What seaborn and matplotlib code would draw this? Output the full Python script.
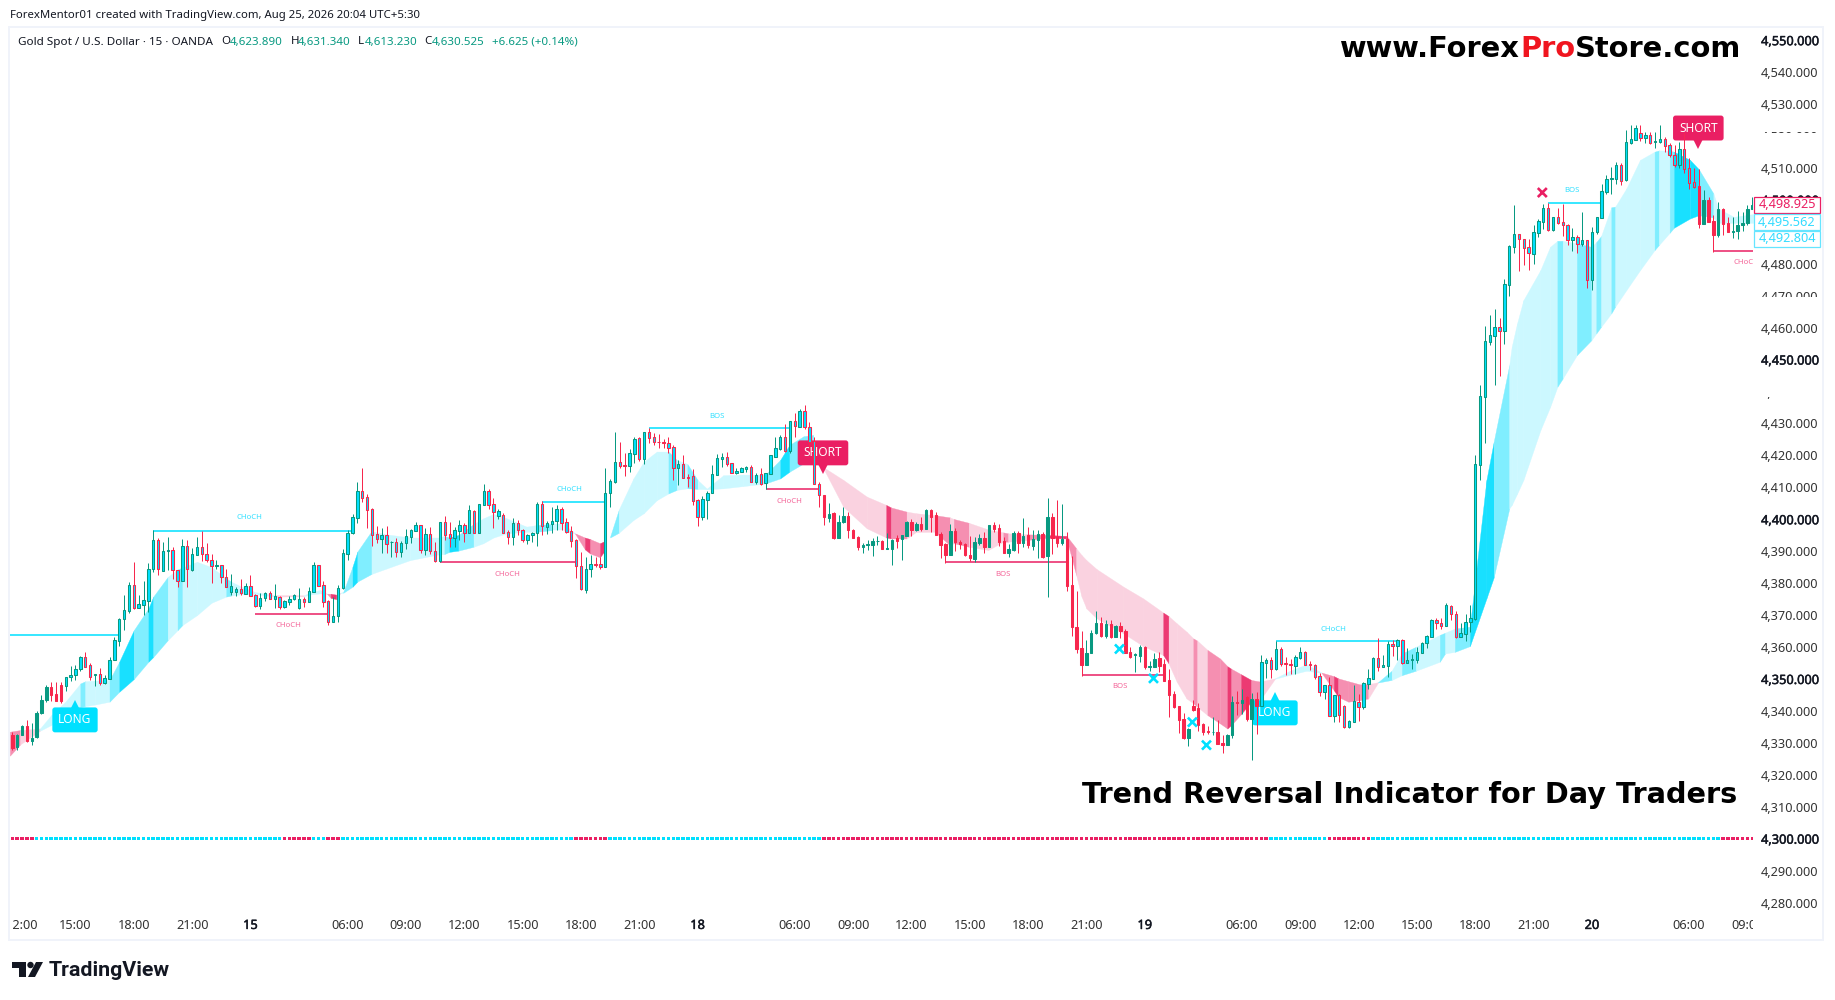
import numpy as np
import pandas as pd
import seaborn as sns
import matplotlib
matplotlib.use("Agg")
import matplotlib.pyplot as plt
from matplotlib.patches import Rectangle, Polygon, Ellipse
from matplotlib import patheffects as pe

W, H = 1835, 1000

# OHLC, one value per bar
opens = [4332.4,4328.8,4332.4,4335.3,4330.6,4331.7,4339.2,4343.4,4347.4,4345.3,
4348,4347.9,4350.5,4351.3,4353,4356.8,4354.3,4351.1,4351.5,4348.8,
4350,4356.1,4362,4368.7,4371.4,4379.3,4372.3,4373.3,4374.5,4384.3,
4393.4,4383.9,4390.2,4390.3,4384,4380.8,4391.5,4384.1,4388.9,4391.2,
4389.2,4387.1,4385.5,4385.6,4381.8,4377.3,4377.3,4378.1,4376.6,4379,
4376.3,4372.9,4375.4,4376.8,4375.1,4375.8,4372.4,4374.2,4375.1,4372.1,
4375.2,4374.2,4377.3,4385.7,4379.3,4374.3,4367.9,4369.8,4378.4,4389.2,
4395.6,4400.5,4408.8,4406.9,4403.2,4395.3,4393.9,4395,4392.8,4392.8,
4389.9,4392.7,4394.6,4396.4,4398.1,4390.4,4395.4,4390.2,4386.9,4399,
4395.4,4394.2,4396.3,4398.1,4395.8,4402.6,4395.8,4404.6,4408.8,4404.7,
4401.1,4401.5,4396,4394.6,4398.7,4396.5,4393.6,4395.2,4395.6,4404.7,
4397.7,4398.6,4399.4,4403.1,4399,4396.2,4393.4,4385.3,4378,4384.5,
4386,4385.9,4385.2,4408.1,4411.6,4417.9,4416.9,4416.8,4420.5,4425.3,
4418.8,4427.2,4425.8,4424.3,4424.1,4423.8,4422.5,4416,4417.2,4413.1,
4413.4,4405.9,4400.8,4406.1,4408.2,4414,4419,4419.4,4417.5,4414.6,
4414.9,4415.6,4416.3,4411.8,4414.2,4411.5,4414.3,4419.6,4422,4425.7,
4421.5,4430.7,4429,4433.8,4428.8,4424.5,4411.2,4407.6,4400.4,4402.1,
4394.1,4399.1,4401.1,4396.8,4394.4,4391.4,4392,4392.1,4393.1,4393.1,
4390.8,4390.8,4394.1,4393.9,4394.8,4399,4396.6,4398.5,4397.1,4402.9,
4401.2,4395.4,4392.2,4388.9,4396.3,4392.9,4392.3,4388.8,4387.7,4392.6,
4394,4391.4,4398.1,4397.2,4393.2,4389.5,4390.4,4395.6,4392.7,4395,
4391.7,4393.6,4395.3,4388.4,4400.6,4394.6,4392.7,4393.7,4379.3,4366.2,
4359.6,4354.5,4358.2,4364.3,4367.4,4363.4,4367.1,4363.2,4366.6,4364.9,
4358.3,4357.5,4357.2,4360.1,4353.9,4353.8,4356.5,4354.7,4349.7,4345.3,
4341.5,4337.4,4331.6,4341.5,4340.8,4335.9,4333.6,4333.3,4333.5,4330.1,
4329.3,4332.4,4342.8,4342.6,4344.4,4337.5,4343.6,4341.6,4355.1,4356.1,
4353.1,4359.3,4354.9,4354.6,4354.2,4356.7,4358.4,4354.7,4354.3,4350.9,
4345.9,4348,4338.5,4344.9,4341.7,4335,4336.6,4342.7,4341.3,4348.4,
4350,4356.5,4353.8,4354.2,4361.1,4360.4,4362.2,4355.1,4355.9,4355.9,
4358.2,4361.3,4363.2,4368.5,4367.6,4366.7,4373,4370.5,4363.1,4364.2,
4367.9,4368.7,4417.1,4438.4,4455.6,4457.4,4460.1,4459,4473.4,4485.3,
4489.2,4487.7,4485.1,4483.1,4489.7,4493.2,4497.4,4490.6,4494.6,4493,
4492.1,4487.5,4488.3,4486.3,4487.3,4475,4490,4494.4,4502.5,4506.5,
4506.4,4510.8,4506.2,4517.9,4518.9,4520.8,4519.4,4520.2,4518,4518.2,
4519,4517.1,4513.9,4511,4515.8,4509.9,4505.6,4504.2,4492.5,4500,
4493.3,4489.1,4497.3,4492.7,4490,4490.3,4492.2,4492.9,4497.2]

highs = [4333.3,4332.9,4335.6,4337.1,4336.1,4339.9,4345,4348.1,4349.1,4349.1,
4349.2,4350.7,4354,4354.4,4357.2,4358.4,4355.1,4351.5,4353.3,4351.2,
4357,4363,4369,4376.3,4380.5,4386.6,4376.3,4380.6,4386.2,4396.6,
4394.3,4393,4394.4,4391.2,4384.1,4393.8,4393.5,4390.9,4394.4,4396.3,
4392.5,4389.1,4387.2,4385.8,4384.3,4382.8,4378.7,4381.3,4379.9,4382.5,
4376.6,4376.8,4377.3,4377.6,4379.7,4376,4374.7,4376,4376.6,4378.4,
4375.8,4378.7,4386.7,4385.7,4380.7,4374.7,4375.8,4379.4,4390.8,4396.6,
4401.7,4411.7,4416.1,4407.9,4403.4,4397.9,4397.2,4397.9,4393.3,4394.3,
4393.3,4396.9,4396.9,4399.3,4398.2,4397.2,4397.5,4393,4399.3,4401,
4399.3,4397.7,4399.8,4398.9,4404.5,4402.9,4404.7,4411,4409.5,4406.6,
4403.1,4401.9,4396.6,4400.3,4399.8,4397,4395.4,4396.1,4405.5,4405.7,
4399.5,4403.7,4404.5,4403.7,4400.3,4397.9,4393.7,4389.9,4388.3,4388.8,
4388.1,4388.3,4416,4412.5,4427.3,4424.2,4420.9,4421.9,4425.9,4425.7,
4427.3,4428.6,4426.9,4426.7,4425,4425.7,4423.3,4418.6,4420.1,4414.2,
4415.6,4406.5,4407.4,4409,4417,4420.4,4420.9,4421.1,4417.6,4416,
4416.5,4416.8,4417,4414.4,4416,4414.6,4420.1,4425.9,4426.4,4429.8,
4430.9,4433.2,4434.4,4435.8,4430.5,4425.7,4411.8,4407.6,4405,4402.2,
4401.3,4403.7,4402.4,4396.9,4394.8,4392.7,4393.5,4394,4394.8,4393.5,
4395.6,4393.7,4395.1,4395.1,4399.6,4400,4399,4400.6,4403.1,4403.1,
4402.4,4396,4392.5,4398.5,4397.2,4393.5,4392.5,4394.8,4394.6,4395.4,
4396.1,4398.2,4399.1,4398.5,4394.6,4392.3,4396.4,4396.4,4400.4,4397.5,
4396.6,4396.6,4396,4406.6,4401.9,4406,4404.8,4396,4388.5,4377.5,
4365,4362.2,4365.3,4371.2,4369.3,4368.5,4368.5,4366.9,4367.8,4365.8,
4359.9,4358,4360.6,4360.3,4355.5,4358,4358.3,4356.4,4353,4346.2,
4341.7,4339.2,4334.8,4343.4,4342.4,4336.1,4335.3,4338,4337.1,4332.4,
4332.9,4344.6,4346.3,4347,4344.6,4345.5,4346,4357.5,4356.5,4356.8,
4362,4359.9,4356.8,4356.4,4357.5,4359.9,4358.8,4355.7,4354.7,4352,
4348.1,4350.5,4345,4345.2,4341.8,4337.1,4348.1,4345.2,4349,4353,
4357,4362.7,4357.5,4362,4362.2,4362.6,4362.6,4359.6,4357.7,4360.1,
4361.7,4363.8,4368.7,4369.1,4369.1,4373.8,4373.2,4371.3,4367.4,4370.2,
4373.2,4420.1,4442,4460.5,4463.9,4465.7,4462.9,4475.2,4485.9,4498.4,
4489.3,4487.9,4487.6,4492.1,4493.9,4498.7,4498.9,4494.7,4497.4,4498.7,
4492.3,4491.2,4489,4496.2,4487.4,4491.6,4494.7,4505,4507.8,4510.2,
4512,4511.4,4521.9,4523.5,4523.6,4523.5,4521.1,4521.4,4521.4,4523.5,
4519.6,4517.7,4517.2,4518.2,4520.8,4513,4509.9,4509.6,4503.1,4501,
4495.3,4499.2,4497.6,4494.5,4494.5,4496.5,4496.2,4498.4,4500.8]

lows = [4327.7,4327.9,4332.4,4330.3,4329.3,4331.4,4339,4342.9,4343.2,4343.2,
4342.6,4346.3,4349.5,4349.7,4352.6,4353.6,4349.7,4347.9,4348.1,4348.4,
4350,4355.9,4360.3,4365.3,4370.7,4372,4372.1,4370.1,4371.1,4383.5,
4382.5,4383.9,4384.1,4381.4,4378.7,4380.7,4378.9,4383.9,4388.8,4387,
4386.7,4380.1,4384.5,4380.1,4378.7,4376.3,4376.1,4376.3,4376.5,4376,
4372.4,4371.8,4374.4,4374.9,4372.1,4371.8,4372.2,4373.2,4374.7,4372,
4372.4,4374.1,4377.1,4379.1,4372.4,4366.9,4367.7,4367.9,4378.2,4387.2,
4395.4,4398.9,4405.5,4397.4,4391.6,4392.5,4389.5,4389.5,4388.3,4388.3,
4388.1,4390.7,4392.5,4396.2,4389.5,4388.8,4389.1,4386.7,4386.7,4393.5,
4391.4,4391.4,4393.5,4393,4395.6,4395.6,4395.6,4404.4,4403.1,4397.3,
4400.1,4395.6,4392.3,4391.9,4395,4393,4392.3,4393,4391.6,4395.1,
4395.3,4395.6,4396.6,4396.6,4395.6,4391.4,4381.6,4377.8,4377,4381.8,
4385,4384.5,4385,4403.7,4411.4,4416,4413.5,4414.9,4417.5,4418.3,
4417.3,4423.8,4423.3,4422.2,4422.2,4420.6,4412.3,4410.7,4412.8,4410,
4404.5,4397.9,4399.8,4400.1,4408.1,4413.9,4416.3,4416.7,4414.4,4414.2,
4414.8,4414.9,4411.6,4411.2,4410.7,4409.4,4414.1,4419.4,4421.7,4421.2,
4420.9,4425.9,4428.8,4428.2,4422.1,4411,4403.9,4398.2,4399.2,4393.9,
4394,4398.9,4394.1,4394.1,4390.4,4389.5,4390.4,4388.6,4391.9,4390.7,
4390.7,4385.8,4390.9,4387.2,4394.8,4394.9,4396.4,4396.4,4396.9,4396,
4395,4387.9,4386.4,4388.7,4390.2,4390.7,4388.5,4386.8,4386.7,4391.9,
4389.5,4391.2,4395.9,4391.6,4389.3,4388.3,4390.2,4389.3,4391.4,4390.9,
4390.5,4388,4387.8,4375.8,4389.1,4391.2,4392,4377.6,4363.4,4358.2,
4350.9,4354.4,4358,4364.1,4363.2,4362.9,4362.8,4363,4362.8,4358,
4356.5,4352.2,4355.3,4353,4352.4,4353.6,4352.3,4349.4,4338.2,4340.8,
4333,4331.2,4329.1,4340,4333.8,4332.4,4332.8,4332.4,4329.6,4326.9,
4329.2,4331.4,4338.7,4339,4336.9,4324.6,4332.7,4341.5,4350.2,4350.2,
4352.8,4354,4351.2,4351.5,4351.5,4356.4,4354.4,4352.8,4349.9,4344.6,
4343.7,4338.4,4336.6,4336.5,4334.7,4334.8,4336.5,4336.8,4340.5,4347,
4349.9,4352.6,4353.6,4350.7,4357.2,4356.1,4354.7,4354.9,4353.1,4355.1,
4358,4359.6,4363,4365.6,4365.7,4366.6,4368.5,4362.9,4363,4362,
4364.8,4368.5,4412.2,4424,4454.5,4442,4444.8,4455,4470,4483.5,
4477.8,4479.6,4478,4479.9,4488.5,4490.9,4490.3,4490.4,4492.4,4488.7,
4485.9,4484.1,4483.3,4485.6,4472.5,4471.8,4489.3,4494.2,4502,4501.8,
4505,4504.7,4506,4517.5,4518.8,4518.5,4517.7,4517.5,4516.1,4517.9,
4515.1,4513.3,4510.4,4509.9,4508.3,4503.5,4503.6,4491.3,4492.4,4493.1,
4483.8,4488.5,4489.1,4489.9,4488,4487.7,4490.4,4492,4497]

closes = [4328.3,4332.6,4335.3,4330.6,4331.4,4339.2,4343.4,4347.4,4345,4343.2,
4343.1,4350.5,4351.1,4353,4356.8,4353.8,4350.7,4351.5,4348.8,4350.2,
4356.1,4362.2,4368.7,4371.6,4379.3,4372.3,4373.5,4374.7,4384.3,4393.4,
4384.3,4390.1,4390.4,4384,4380.8,4391.5,4384.3,4389.1,4391.3,4389.2,
4387.1,4385.5,4385.7,4381.8,4378.9,4379,4378.2,4376.8,4379,4376.1,
4373,4375.5,4376.8,4375.1,4375.9,4372.4,4374.3,4375.2,4376.3,4375.2,
4374.2,4377.4,4385.7,4379.2,4374.1,4367.9,4369.7,4378.4,4389.3,4395.6,
4400.6,4408.8,4406.8,4403,4395.2,4393.9,4395,4392.4,4393,4389.9,
4392.5,4394.7,4396.6,4398.1,4390.4,4395.4,4390.2,4387,4399,4395.2,
4394.2,4396.6,4398.1,4395.8,4402.8,4395.8,4404.7,4408.8,4404.6,4402.4,
4402.6,4395.8,4394.6,4398.7,4396.5,4393.5,4395.1,4395.7,4404.8,4397.8,
4398.7,4399.4,4403.1,4398.9,4396.1,4393.3,4385.5,4378.1,4384.3,4385.9,
4385.8,4385.2,4408.1,4412.1,4417.9,4416.8,4416.8,4420.8,4425.1,4418.8,
4427.2,4425.6,4424.3,4424.1,4423.8,4422.4,4416,4417.3,4413,4413,
4405.8,4400.8,4406.3,4408.1,4414.1,4419.1,4419.4,4417.4,4414.6,4415.1,
4416.2,4416.3,4411.8,4414,4411.2,4414.4,4420,4422.3,4425.7,4421.4,
4430.7,4429.1,4433.8,4428.8,4424.3,4411.2,4407.7,4400.6,4401.8,4394.1,
4399.3,4401,4396.7,4394.2,4391.4,4391.9,4392.2,4393.1,4393.3,4390.8,
4391,4393.5,4393.3,4395,4399.1,4396.6,4398.5,4397,4402.9,4400.8,
4395.2,4392,4388.9,4396.2,4393,4392.4,4388.8,4387.9,4392.8,4394.1,
4391.4,4398.1,4397,4392.9,4389.5,4390.6,4395.6,4392.7,4394.7,4391.8,
4393.7,4395.3,4388.2,4400.6,4394.3,4392.7,4393.7,4379.1,4366.2,4359.5,
4354.5,4358.2,4364.3,4367.4,4363.4,4367.1,4363.1,4366.6,4364.9,4358.2,
4356.9,4357.7,4359.9,4353.8,4354.2,4356.4,4354.1,4349.5,4345.1,4341.1,
4337.2,4331.4,4334.3,4340.3,4335.6,4333.4,4333.4,4333.5,4329.8,4329.4,
4332.4,4342.7,4342.6,4343.4,4337.4,4343.6,4341.6,4355.3,4356.1,4353.1,
4359.3,4354.8,4354.6,4354.3,4356.8,4358.4,4354.5,4354.3,4350.7,4345.9,
4348,4338.5,4344.9,4338.7,4335,4336.9,4343,4341.3,4348.6,4350.2,
4356.5,4353.8,4354.3,4361.1,4360.4,4362.2,4355.1,4355.8,4356.2,4358.3,
4361.4,4363.4,4368.5,4367.6,4366.7,4373.2,4370.4,4363.1,4364.3,4368,
4369,4417.3,4438.6,4455.8,4457.6,4460.1,4459,4473.7,4485.6,4489.2,
4487.6,4484.8,4483.5,4489.8,4493.4,4497.5,4490.6,4494.6,4492.9,4492,
4487.5,4488.4,4486.3,4487.3,4475,4490.1,4494.5,4502.7,4506.4,4506.8,
4510.8,4506,4518,4519,4522.4,4519.5,4520.2,4517.9,4518.3,4519.1,
4517,4513.9,4511,4515.9,4509.8,4505.4,4504,4492.5,4499.9,4493.2,
4489.1,4497.3,4492.5,4490,4490.2,4492.2,4492.9,4497.3,4498.3]

# bars where the candle body is filled with its own colour, not cyan
bear_start = [0, 167, 347]
bear_end = [10, 256, 358]

# ribbon edges read at the places where its shade changes
ribbon_bar = [-0.5,1.6,5.7,8,11,14,15,17,20,22,25,28,29,32,34,35,38,41,44,45,47,50,54,60,61,63.3,64.8,65.5,66.7,67.5,
68.1,70,71,73.9,77,81.8,87.7,88.9,89.9,91.8,94.9,96.9,99,101.7,105.8,107.9,111,113.4,115.8,117.8,118.9,120.9,122,123,
124.8,127.8,129.9,132.6,135,136.7,138.9,141,142.9,146.3,150.4,154.9,158,159.9,162.8,164.8,167.2,171,175.8,179.8,180.8,184,185.9,
189.8,192.9,193.7,196.8,200.8,203.9,204.9,208.7,212.8,216.9,218.9,220,221,223.1,228.6,232.7,236.8,237.9,239.6,241.6,243,243.8,
245.9,248.5,250,250.8,252.8,254.9,256.7,259.8,262.9,266.3,269.4,271.9,272.8,274.9,277.3,279,281,283.8,285.9,288.8,293.7,294.8,
296.8,299.9,303.3,304.8,308,308.5,309.6,310.9,314.4,316.4,317.9,319,321.9,324.9,325.9,326.9,329,329.8,332.1,334.9,337.9,338.8,
341,341.9,345.2,347,350,351,354.2,358.2]
ribbon_top = [4333.5,4334,4334.5,4338.7,4343,4348.6,4349.3,4349.5,4349.7,4355.4,4365.3,4372.1,4375.8,4382,4384.3,4384.9,4386.7,4385,4381.5,4380.5,4379,4377.2,4376.3,4376.2,4376.9,4377.9,4376.7,4376.7,4376.4,4377,
4377.3,4385.2,4389.9,4396.3,4395.3,4394.3,4394.3,4394.8,4394.3,4395.1,4398.5,4400.3,4401.7,4400.3,4397.7,4398.2,4398.5,4398.5,4395.6,4394.3,4393.8,4392.5,4393.3,4394.6,
4403.1,4412.8,4418,4421.2,4421.2,4418.6,4417.3,4412.3,4409.6,4413.8,4414,4413.9,4418.6,4423.3,4426,4426.4,4416,4412.3,4407.1,4404.5,4403.7,4402.4,4401.9,
4401.3,4400.6,4400.1,4398.9,4396.8,4395.9,4395.6,4395.3,4395.1,4394.8,4390.9,4388.8,4387.2,4384.4,4378.9,4375.2,4370.8,4369.7,4367.4,4364.8,4362.7,4362,
4359.1,4356.4,4354,4353.2,4351.5,4349.7,4349.2,4350.2,4352.6,4354.6,4352,4350.9,4350.2,4349.3,4348.3,4348.4,4349,4352.6,4358,4360.1,4363.8,4364.5,
4365.8,4366.4,4412.3,4424.3,4448.3,4454,4461.3,4468.6,4478,4485.3,4487.2,4487.2,4486.4,4485.3,4486.8,4488.7,4497.7,4497.9,4503.6,4512.5,4515.1,4515.5,
4515.4,4515.1,4512.5,4509.6,4502,4497.3,4494.7,4495.56]
ribbon_bot = [4326,4329.5,4333.8,4335.6,4338,4341.3,4341.5,4342,4342.9,4346,4350,4355.4,4356.9,4362.2,4365.3,4366.9,4370,4373.9,4375.8,4376.1,4376.5,4376.6,4375.8,4375.9,4376.4,4376.8,4376.6,4375.4,4375,4376.9,
4377,4378.9,4380.5,4382.9,4384.6,4387.2,4389,4389.1,4389.8,4390.2,4391.4,4392.5,4394.3,4395.6,4396.1,4396.1,4396.6,4396.6,4395.5,4390.6,4389.3,4388.1,4390.4,4394.3,
4395.8,4399.8,4401.9,4406,4408.1,4409.2,4409.7,4409.5,4409.4,4409.7,4410.4,4411.2,4412.8,4414.9,4417.5,4421.7,4415,4403.9,4397.2,4394.3,4394,4394,4396,
4396.1,4391.9,4392.5,4391.4,4390.4,4393,4393,4393.5,4394.2,4394,4382.5,4375.8,4372.1,4369,4364.3,4360.3,4357.5,4354.9,4349.1,4343.9,4342.4,4341.3,
4338.7,4336.1,4334.5,4335.6,4339,4342.9,4343.4,4350.1,4351.3,4352.6,4351.9,4346.5,4344.4,4342.9,4343.4,4343.9,4348.9,4349.7,4351.2,4352.6,4355.4,4358,
4358.5,4360.3,4375.2,4381.8,4403.4,4404.5,4408,4412.3,4427.9,4435.2,4441.5,4444.1,4451.4,4456.1,4458.2,4460.3,4464.5,4466.6,4471.8,4478,4484.3,4485.9,
4489.7,4491.3,4494.2,4495.2,4494.5,4492.8,4492.8,4492.8]
# shade of the stretch that starts at each knot
ribbon_shade = ["p2","p1","c1","c1","c1","c2","c1","c1","c2","c3","c2","c3","c2","c1","c2","c1","c1","c1","c2","c1","c1","c1","p1","c1","c1","c1","p2","p3","p1","c1",
"c2","c3","c2","c1","c1","c1","c1","c2","c3","c2","c1","c1","c1","c1","c1","c2","c1","c1","p2","p3","p2","p3","","c2",
"c1","c1","c1","c1","c2","c1","c2","c1","c1","c1","c1","c2","c3","c2","c2","","p1","p1","p1","p3","p2","p1","p1",
"p2","p1","p2","p1","p1","p2","p1","p2","p3","p2","p1","p1","p1","p1","p1","p1","p3","p1","p1","p1","p2","p1",
"p2","p2","p3","p2","p3","p2","p1","c1","c1","c1","p2","p3","p2","p2","p2","p1","c2","c1","c2","c1","c2","c1",
"c2","c3","c3","c2","c1","c1","c1","c1","c1","c1","c2","c1","c2","c1","c2","c1","c2","c1","c1","c1","c2","c1",
"c2","c3","c3","c2","c1","c1","c1",""]
shades = {"c1": "#ccf8ff", "c2": "#80eeff", "c3": "#19e0ff",
          "p1": "#fad2e0", "p2": "#f58fb1", "p3": "#ec3a73"}

# swing levels and their small captions
struct_start = [-0.5, 29, 50, 88, 109, 131, 155, 192, 220, 260, 316, 350]
struct_end = [22, 70, 65, 116, 122, 160, 166, 217, 237, 285, 327, 359]
struct_level = [4363.9, 4396.4, 4370.5, 4386.5, 4405.5, 4428.5, 4409.4, 4386.5, 4351.1, 4361.8, 4498.9, 4483.9]
struct_side = ["up", "up", "dn", "dn", "up", "up", "dn", "dn", "dn", "up", "up", "dn"]
caption_text = ["CHoCH", "CHoCH", "CHoCH", "CHoCH", "BOS", "CHoCH", "BOS", "BOS", "CHoCH", "BOS", "CHoCH"]
caption_bar = [48.7, 56.8, 101.8, 114.7, 145, 159.9, 203.8, 227.8, 271.8, 320.9, 356.7]
caption_price = [4400.5, 4366.8, 4382.8, 4409.4, 4432.1, 4405.5, 4382.8, 4347.6, 4365.4, 4502.9, 4480.3]
caption_side = ["up", "dn", "dn", "up", "up", "dn", "dn", "dn", "up", "up", "dn"]

# signal tags
signal_text = ["LONG", "LONG", "SHORT", "SHORT"]
signal_bar = [12.9, 259.8, 166.8, 346.9]
signal_price = [4337.2, 4339.4, 4420.8, 4522.5]
pointer_price = [4341.9, 4344.4, 4415.9, 4517.5]

# x marks
cross_bar = [227.8, 234.8, 242.8, 245.7, 314.8]
cross_price = [4359.4, 4350.2, 4336.5, 4329.3, 4502.3]
cross_side = ["up", "up", "up", "up", "dn"]

# trend strip along 4300: the bar where each colour takes over
strip_change = [-0.5, 4.9, 55.4, 61.2, 64.7, 67.1, 115.9, 122.4, 166.1, 259, 270.7, 280, 352]
strip_side = ["dn", "up", "dn", "up", "dn", "up", "dn", "up", "dn", "up", "dn", "up", "dn"]
strip_price = 4300

price_ticks = list(range(4280, 4551, 10))
strong_ticks = [4300, 4350, 4400, 4450, 4500, 4550]
time_bars = [2, 13, 25, 37, 49, 69, 81, 93, 105, 117, 129, 141, 161, 173, 185, 197, 209, 221, 233, 253, 265, 277, 289, 301, 313, 325, 345, 357]
time_labels = ["12:00", "15:00", "18:00", "21:00", "15", "06:00", "09:00", "12:00", "15:00", "18:00", "21:00", "18", "06:00", "09:00",
               "12:00", "15:00", "18:00", "21:00", "19", "06:00", "09:00", "12:00", "15:00", "18:00", "21:00", "20", "06:00", "09:00"]

last_values = ["4,498.925", "4,495.562", "4,492.804"]
legend_values = ["4,623.890", "4,631.340", "4,613.230", "4,630.525"]

UP_LINE, DN_LINE = "#089981", "#f7274d"
CYAN, PINK = "#00e0ff", "#ea1f63"
side_color = {"up": CYAN, "dn": PINK}
caption_color = {"up": "#33e0ff", "dn": "#f4679a"}
INK = "#131722"

sns.set_theme(style="white")
plt.rcParams["font.family"] = ["Noto Sans", "DejaVu Sans"]

fig = plt.figure(figsize=(W / 100, H / 100), dpi=100, facecolor="white")
ax = fig.add_axes([10 / W, 1 - 912 / H, 1743 / W, 885 / H])
ax.set_xlim(-0.473, 358.15)
ax.set_ylim(4277.05, 4554.13)
ax.set_facecolor("white")

df = pd.DataFrame({"open": opens, "high": highs, "low": lows, "close": closes})
df["bar"] = df.index
df["rising"] = df.close >= df.open
df["line"] = np.where(df.rising, UP_LINE, DN_LINE)
df["fill"] = CYAN
for a, b in zip(bear_start, bear_end):
    mask = (df.bar >= a) & (df.bar <= b)
    df.loc[mask, "fill"] = df.loc[mask, "line"]

# ribbon, one stretch per shade
for k in range(len(ribbon_bar) - 1):
    if ribbon_shade[k]:
        ax.fill_between(ribbon_bar[k:k + 2], ribbon_top[k:k + 2], ribbon_bot[k:k + 2],
                        color=shades[ribbon_shade[k]], lw=0.25, zorder=1)

# swing lines and captions
for a, b, lvl, s in zip(struct_start, struct_end, struct_level, struct_side):
    ax.hlines(lvl, a, b, color=side_color[s], lw=1.1, zorder=2)
for t, b, p, s in zip(caption_text, caption_bar, caption_price, caption_side):
    ax.text(b, p, t, color=caption_color[s], fontsize=5.6, ha="center", va="center", clip_on=True, zorder=2)

# signal tags sit under the candles
for t, b, p, q in zip(signal_text, signal_bar, signal_price, pointer_price):
    col = CYAN if t == "LONG" else PINK
    ax.text(b, p, t, color="white", fontsize=8.6, ha="center", va="center", zorder=2.5,
            bbox=dict(boxstyle="round,pad=0.5,rounding_size=0.22", fc=col, ec="none"))
    ax.plot([b], [q], marker="^" if t == "LONG" else "v", ms=7.5, color=col, mew=0, zorder=2.5)

# candles
ax.vlines(df.bar, df.low, df.high, colors=df.line, lw=0.72, zorder=3)
ax.bar(df.bar, (df.close - df.open).abs(), bottom=df[["open", "close"]].min(axis=1), width=0.5,
       color=df.fill, edgecolor=df.line, linewidth=0.75, zorder=3.1)

sns.scatterplot(x=cross_bar, y=cross_price, hue=cross_side, palette=side_color, marker="x", s=42,
                linewidth=1.9, legend=False, ax=ax, zorder=3.5)

# one square per bar on the 4300 strip
strip_bars = np.arange(0, 359)
strip_idx = np.searchsorted(strip_change, strip_bars, side="right") - 1
strip_hue = [strip_side[k] for k in strip_idx]
sns.scatterplot(x=strip_bars, y=[strip_price] * len(strip_bars), hue=strip_hue, palette=side_color, marker="s",
                s=6.5, linewidth=0, legend=False, ax=ax, zorder=2)

ax.yaxis.tick_right()
ax.set_yticks(price_ticks)
ax.set_yticklabels(["" if v == 4490 else f"{v:,.3f}" for v in price_ticks], fontsize=9.2, color="#333333")
ax.tick_params(axis="y", length=0, pad=5.8)
for lab, v in zip(ax.get_yticklabels(), price_ticks):
    if v in strong_ticks:
        lab.set_color(INK)
        lab.set_path_effects([pe.withStroke(linewidth=0.35, foreground=INK)])
ax.set_xticks(time_bars)
ax.set_xticklabels(time_labels, fontsize=9.2, color="#333333")
ax.tick_params(axis="x", length=0, pad=5)
for lab, t in zip(ax.get_xticklabels(), time_labels):
    if ":" not in t:
        lab.set_color(INK)
        lab.set_path_effects([pe.withStroke(linewidth=0.35, foreground=INK)])
ax.grid(False)
sns.despine(ax=ax, left=True, bottom=True, right=True, top=True)


def px_rect(x0, y0, x1, y1, **kw):
    r = Rectangle((x0 / W, 1 - y1 / H), (x1 - x0) / W, (y1 - y0) / H, transform=fig.transFigure, **kw)
    fig.add_artist(r)


def px_text(x, y, s, **kw):
    kw.setdefault("va", "center")
    kw.setdefault("color", INK)
    return fig.text(x / W, 1 - y / H, s, **kw)


# parts of the scale hidden in the original
for y0, y1 in [(133, 143), (297, 304), (384, 396.5)]:
    px_rect(1755, y0, 1830, y1, fc="white", ec="none", zorder=1)
px_rect(1753, 915, 1800, 938, fc="white", ec="none", zorder=1)
px_rect(0, 915, 12.5, 938, fc="white", ec="none", zorder=1)

# frame
for box in [(8, 26, 1824, 28), (8, 939, 1824, 941), (8, 26, 10, 941), (1822, 26, 1824, 941)]:
    px_rect(*box, fc="#f0f3fa", ec="none", zorder=1.5)

# last value boxes
for (y0, y1), txt, col, ec in zip([(197, 213), (214, 230), (231, 247)], last_values,
                                  [PINK, "#33dcff", "#33dcff"], [PINK, "#66e5ff", "#66e5ff"]):
    px_rect(1754, y0, 1820, y1, fc="white", ec=ec, lw=0.9, zorder=2)
    px_text(1787, (y0 + y1) / 2, txt, color=col, fontsize=9.2, ha="center", zorder=3)

# header and legend line
px_text(10, 15.5, "ForexMentor01 created with TradingView.com, Aug 25, 2026 20:04 UTC+5:30", fontsize=8.2)
px_text(18, 42, "Gold Spot / U.S. Dollar · 15 · OANDA", fontsize=8.4)
GREEN = "#089981"
for xl, xv, ch, val in zip([221.5, 290.5, 358, 424.5], [230, 298, 365, 432], "OHLC", legend_values):
    px_text(xl, 42, ch, fontsize=8.3)
    px_text(xv, 42, val, fontsize=8.3, color=GREEN)
px_text(492, 42, "+6.625 (+0.14%)", fontsize=8.3, color=GREEN)

# overlay titles, font size fitted to the width they span
rend = fig.canvas.get_renderer()
parts = [("www.Forex", "black"), ("Pro", "#f0151f"), ("Store.com", "black")]
probe = px_text(0, 0, "www.ForexProStore.com", fontsize=20, fontweight="bold", family="DejaVu Sans")
site_size = 20 * 401 / probe.get_window_extent(rend).width
probe.remove()
x = 1340
for part, col in parts:
    t = px_text(x, 49, part, color=col, fontsize=site_size, fontweight="bold", family="DejaVu Sans", zorder=4)
    x += t.get_window_extent(rend).width

trend = px_text(1082, 795, "Trend Reversal Indicator for Day Traders", color="black", fontsize=20,
                fontweight="bold", family="DejaVu Sans", zorder=4)
trend.set_fontsize(20 * 657 / trend.get_window_extent(rend).width)

# TradingView mark
px_rect(12, 962, 26, 968, fc=INK, ec="none", zorder=2)
px_rect(19, 962, 26, 977, fc=INK, ec="none", zorder=2)
fig.add_artist(Ellipse((30.5 / W, 1 - 965 / H), 6.4 / W, 6.4 / H, transform=fig.transFigure, fc=INK, ec="none", zorder=2))
fig.add_artist(Polygon([(p[0] / W, 1 - p[1] / H) for p in [(36, 962), (43, 962), (35, 977), (28, 977)]],
                       transform=fig.transFigure, fc=INK, ec="none", zorder=2))
px_text(49, 970, "TradingView", fontsize=15.4, fontweight="bold", family="Roboto", color=INK)

fig.savefig("out.png", dpi=100)
